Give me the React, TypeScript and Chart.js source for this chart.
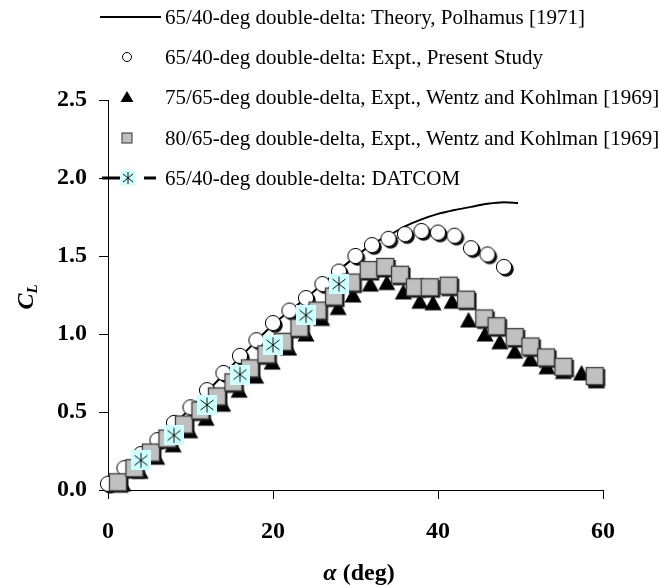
import React, { useEffect, useRef } from "react";
import { Chart, registerables } from "chart.js";

Chart.register(...registerables);

// ---------------- data ----------------
const theoryAlpha = [0, 4, 8, 12, 16, 20, 24, 28, 32, 34, 36, 38, 40, 42, 44, 46, 48, 49.7];
const theoryCL = [0, 0.21, 0.42, 0.63, 0.85, 1.06, 1.23, 1.41, 1.575, 1.63, 1.69, 1.735, 1.77, 1.795, 1.815, 1.835, 1.845, 1.84];

const presentAlpha = [0, 2, 4, 6, 8, 10, 12, 14, 16, 18, 20, 22, 24, 26, 28, 30, 32, 34, 36, 38, 40, 42, 44, 46, 48];
const presentCL = [0.04, 0.14, 0.23, 0.32, 0.43, 0.53, 0.64, 0.75, 0.86, 0.96, 1.07, 1.15, 1.23, 1.32, 1.4, 1.5, 1.57, 1.61, 1.64, 1.66, 1.65, 1.63, 1.55, 1.51, 1.43];

const wentz75Alpha = [1.8, 3.9, 5.9, 7.9, 9.9, 11.9, 13.9, 15.9, 17.9, 19.9, 21.9, 24.0, 25.9, 27.9, 29.7, 31.8, 33.8, 35.8, 37.8, 39.4, 41.7, 43.7, 45.7, 47.5, 49.3, 51.2, 53.2, 55.2, 57.4, 59.2];
const wentz75CL = [0.04, 0.12, 0.21, 0.29, 0.38, 0.46, 0.55, 0.64, 0.73, 0.82, 0.91, 1.0, 1.1, 1.17, 1.25, 1.32, 1.33, 1.27, 1.21, 1.2, 1.21, 1.09, 1.0, 0.95, 0.89, 0.84, 0.79, 0.76, 0.75, 0.7];

const wentz80Alpha = [1.2, 3.2, 5.2, 7.2, 9.2, 11.2, 13.2, 15.2, 17.2, 19.2, 21.2, 23.2, 25.4, 27.4, 29.5, 31.6, 33.6, 35.4, 37.2, 39.0, 41.3, 43.4, 45.6, 47.1, 49.3, 51.2, 53.1, 55.2, 59.0];
const wentz80CL = [0.05, 0.14, 0.24, 0.33, 0.42, 0.51, 0.6, 0.69, 0.78, 0.87, 0.95, 1.04, 1.15, 1.24, 1.33, 1.41, 1.43, 1.38, 1.3, 1.3, 1.31, 1.22, 1.1, 1.05, 0.98, 0.92, 0.85, 0.79, 0.73];

const datcomAlpha = [4, 8, 12, 16, 20, 24, 28];
const datcomCL = [0.19, 0.35, 0.545, 0.74, 0.93, 1.12, 1.32];

const xTicks = [0, 20, 40, 60];
const yTicks = [0, 0.5, 1.0, 1.5, 2.0, 2.5];

const legendLabels = [
  "65/40-deg double-delta: Theory, Polhamus [1971]",
  "65/40-deg double-delta: Expt., Present Study",
  "75/65-deg double-delta, Expt., Wentz and Kohlman [1969]",
  "80/65-deg double-delta, Expt., Wentz and Kohlman [1969]",
  "65/40-deg double-delta: DATCOM",
];

// ---------------- styles ----------------
const SERIF = "'Liberation Serif', 'Times New Roman', serif";
const W = 659;
const H = 586;
const CYAN = "#CCFFFF";
const GRAY = "#C0C0C0";

function makeCanvas(w: number, h: number, draw: (ctx: CanvasRenderingContext2D) => void) {
  const c = document.createElement("canvas");
  c.width = w;
  c.height = h;
  const ctx = c.getContext("2d")!;
  draw(ctx);
  return c;
}

function circleMarker() {
  return makeCanvas(24, 24, (ctx) => {
    ctx.fillStyle = "#111";
    ctx.beginPath();
    ctx.arc(14.2, 14.2, 7.6, 0, Math.PI * 2);
    ctx.fill();
    ctx.fillStyle = "#fff";
    ctx.strokeStyle = "#000";
    ctx.lineWidth = 1;
    ctx.beginPath();
    ctx.arc(12, 12, 7.6, 0, Math.PI * 2);
    ctx.fill();
    ctx.stroke();
  });
}

function squareMarker() {
  return makeCanvas(24, 24, (ctx) => {
    ctx.fillStyle = "#111";
    ctx.fillRect(5, 5, 17.5, 17.5);
    ctx.fillStyle = GRAY;
    ctx.fillRect(3.5, 3.5, 17, 17);
    ctx.strokeStyle = "#3a3a3a";
    ctx.lineWidth = 1.3;
    ctx.strokeRect(3.5, 3.5, 17, 17);
  });
}

function triangleMarker() {
  return makeCanvas(20, 20, (ctx) => {
    ctx.fillStyle = "#000";
    ctx.beginPath();
    ctx.moveTo(10, 2);
    ctx.lineTo(18.5, 17.5);
    ctx.lineTo(1.5, 17.5);
    ctx.closePath();
    ctx.fill();
  });
}

function starMarker() {
  return makeCanvas(20, 20, (ctx) => {
    ctx.fillStyle = CYAN;
    ctx.fillRect(0, 0, 20, 20);
    ctx.strokeStyle = "#111";
    ctx.lineWidth = 1;
    ctx.beginPath();
    ctx.moveTo(10, 2.5);
    ctx.lineTo(10, 17.5);
    ctx.moveTo(3.5, 5);
    ctx.lineTo(16.5, 15);
    ctx.moveTo(3.5, 15);
    ctx.lineTo(16.5, 5);
    ctx.stroke();
  });
}

function pts(xs: number[], ys: number[]) {
  return xs.map((x, i) => ({ x, y: ys[i] }));
}

function ChartCanvas() {
  const ref = useRef<HTMLCanvasElement | null>(null);
  useEffect(() => {
    if (!ref.current) return;
    const tickFont = { family: SERIF, size: 24, weight: "bold" as const };
    const chart = new Chart(ref.current, {
      type: "scatter",
      data: {
        datasets: [
          {
            label: legendLabels[0],
            data: pts(theoryAlpha, theoryCL),
            showLine: true,
            borderColor: "#000",
            borderWidth: 2,
            pointRadius: 0,
            cubicInterpolationMode: "monotone",
            order: 5,
            clip: false,
          } as any,
          {
            label: legendLabels[1],
            data: pts(presentAlpha, presentCL),
            pointStyle: circleMarker(),
            pointRadius: 8,
            order: 4,
            clip: false,
          },
          {
            label: legendLabels[2],
            data: pts(wentz75Alpha, wentz75CL),
            pointStyle: triangleMarker(),
            pointRadius: 8,
            order: 3,
            clip: false,
          },
          {
            label: legendLabels[3],
            data: pts(wentz80Alpha, wentz80CL),
            pointStyle: squareMarker(),
            pointRadius: 8,
            order: 2,
            clip: false,
          },
          {
            label: legendLabels[4],
            data: pts(datcomAlpha, datcomCL),
            pointStyle: starMarker(),
            pointRadius: 8,
            order: 1,
            clip: false,
          },
        ],
      },
      options: {
        animation: false,
        responsive: false,
        maintainAspectRatio: false,
        layout: { padding: { top: 100, right: 56, bottom: 0, left: 0 } },
        plugins: { legend: { display: false }, tooltip: { enabled: false } },
        scales: {
          x: {
            type: "linear",
            min: xTicks[0],
            max: xTicks[xTicks.length - 1],
            afterBuildTicks: (s: any) => {
              s.ticks = xTicks.map((v) => ({ value: v }));
            },
            ticks: { font: tickFont, color: "#000", padding: 18 },
            grid: { drawOnChartArea: false, drawTicks: true, tickLength: 9, color: "#000", lineWidth: 1 },
            border: { display: true, color: "#000", width: 1 },
            afterFit: (s: any) => {
              s.height = 96;
            },
          },
          y: {
            type: "linear",
            min: yTicks[0],
            max: yTicks[yTicks.length - 1],
            afterBuildTicks: (s: any) => {
              s.ticks = yTicks.map((v) => ({ value: v }));
            },
            ticks: {
              font: tickFont,
              color: "#000",
              padding: 12,
              callback: (v: any) => Number(v).toFixed(1),
            },
            grid: { drawOnChartArea: false, drawTicks: true, tickLength: 9, color: "#000", lineWidth: 1 },
            border: { display: true, color: "#000", width: 1 },
            afterFit: (s: any) => {
              s.width = 108;
            },
          },
        },
      },
    });
    return () => chart.destroy();
  }, []);
  return <canvas ref={ref} width={W} height={H} style={{ position: "absolute", left: 0, top: 0, width: W, height: H }} />;
}

const rowY = [17, 57, 97, 138, 178];
const markerX = 127;
const textX = 165;

function Legend() {
  const s = 5;
  return (
    <>
      <svg width={W} height={H} style={{ position: "absolute", left: 0, top: 0, pointerEvents: "none" }}>
        <line x1={100} y1={rowY[0]} x2={161} y2={rowY[0]} stroke="#000" strokeWidth={2} />
        <circle cx={markerX} cy={rowY[1]} r={4.5} fill="#fff" stroke="#000" strokeWidth={1} />
        <polygon
          points={`${markerX},${rowY[2] - 6} ${markerX + 6.5},${rowY[2] + 5} ${markerX - 6.5},${rowY[2] + 5}`}
          fill="#000"
        />
        <rect x={markerX - s} y={rowY[3] - s} width={2 * s} height={2 * s} fill={GRAY} stroke="#333" strokeWidth={1} />
        <line x1={102} y1={rowY[4]} x2={120} y2={rowY[4]} stroke="#000" strokeWidth={3} />
        <line x1={144} y1={rowY[4]} x2={156} y2={rowY[4]} stroke="#000" strokeWidth={3} />
        <rect x={markerX - 6.5} y={rowY[4] - 7.5} width={15} height={15} fill={CYAN} />
        <g stroke="#111" strokeWidth={1}>
          <line x1={markerX + 1} y1={rowY[4] - 6} x2={markerX + 1} y2={rowY[4] + 6} />
          <line x1={markerX - 4} y1={rowY[4] - 4} x2={markerX + 6} y2={rowY[4] + 4} />
          <line x1={markerX - 4} y1={rowY[4] + 4} x2={markerX + 6} y2={rowY[4] - 4} />
        </g>
      </svg>
      {legendLabels.map((t, i) => (
        <div
          key={i}
          style={{
            position: "absolute",
            left: textX,
            top: rowY[i] - 12,
            height: 24,
            lineHeight: "24px",
            fontFamily: SERIF,
            fontSize: 21,
            color: "#000",
            whiteSpace: "nowrap",
          }}
        >
          {t}
        </div>
      ))}
    </>
  );
}

export default function App() {
  return (
    <div style={{ position: "absolute", left: 0, top: 0, width: W, height: H, overflow: "hidden", background: "#fff" }}>
      <ChartCanvas />
      <Legend />
      <div
        style={{
          position: "absolute",
          left: 259,
          width: 200,
          top: 558,
          height: 28,
          lineHeight: "28px",
          textAlign: "center",
          fontFamily: SERIF,
          fontSize: 24,
          fontWeight: "bold",
          color: "#000",
          whiteSpace: "nowrap",
        }}
      >
        <i>α</i> (deg)
      </div>
      <div
        style={{
          position: "absolute",
          left: 25 - 40,
          top: 297 - 14,
          width: 80,
          height: 28,
          lineHeight: "28px",
          textAlign: "center",
          transform: "rotate(-90deg)",
          fontFamily: SERIF,
          fontSize: 24,
          fontStyle: "italic",
          fontWeight: "bold",
          color: "#000",
          whiteSpace: "nowrap",
        }}
      >
        C<sub style={{ fontSize: 15, verticalAlign: "-4px" }}>L</sub>
      </div>
    </div>
  );
}
